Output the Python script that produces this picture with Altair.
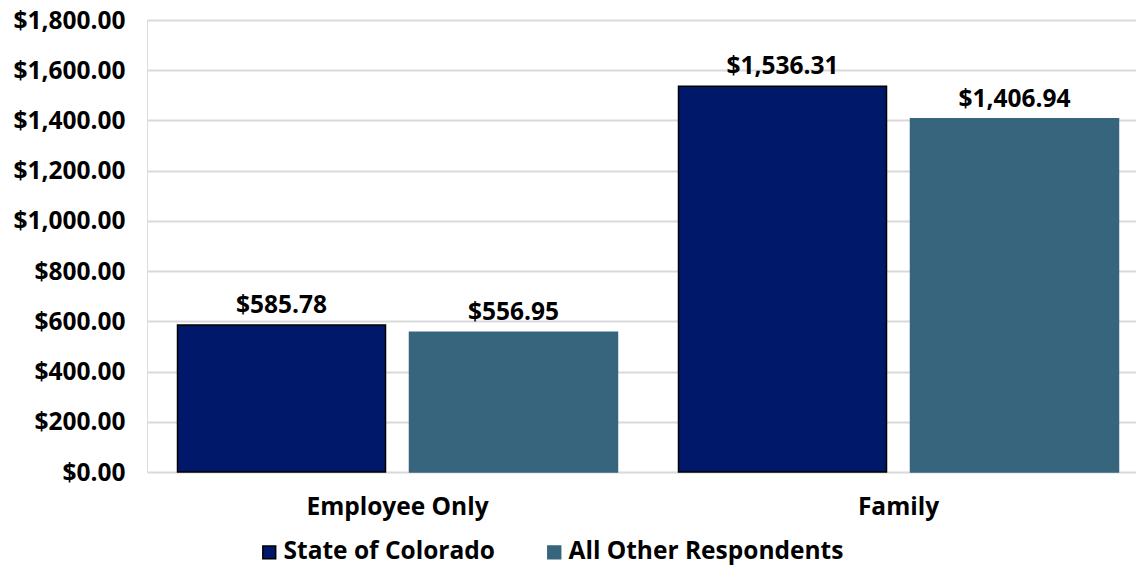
import altair as alt
import pandas as pd

categories = ["Employee Only", "Family"]
series = ["State of Colorado", "All Other Respondents"]
colorado = [585.78, 1536.31]
others = [556.95, 1406.94]
y_ticks = [0, 200, 400, 600, 800, 1000, 1200, 1400, 1600, 1800]

rows = []
for i, c in enumerate(categories):
    rows.append({"Coverage": c, "Series": series[0], "Value": colorado[i]})
    rows.append({"Coverage": c, "Series": series[1], "Value": others[i]})
df = pd.DataFrame(rows)

FONT = "Open Sans"
FS = 24.5

x = alt.X("Coverage:N", sort=categories, title=None,
          scale=alt.Scale(paddingInner=0, paddingOuter=0, range=[0, 1002]),
          axis=alt.Axis(labelAngle=0, domain=False, ticks=False, labelPadding=23,
                        labelFont=FONT, labelFontSize=FS, labelFontWeight="bold",
                        labelColor="black", grid=False, labelLimit=500))
xoff = alt.XOffset("Series:N", sort=series,
                   scale=alt.Scale(paddingInner=0.1034, paddingOuter=0.1315))
y = alt.Y("Value:Q", title=None,
          scale=alt.Scale(domain=[0, 1800], nice=False),
          axis=alt.Axis(values=y_ticks, format="$,.2f", domain=False, ticks=False,
                        labelPadding=22, labelOffset=1, labelFont=FONT, labelFontSize=FS,
                        labelFontWeight="bold", labelColor="black",
                        gridColor="#d9d9d9", gridWidth=2))

legend = alt.Legend(title=None, orient="none", legendX=110, legendY=520,
                    direction="horizontal", symbolType="square", symbolSize=165,
                    labelFont=FONT, labelFontSize=FS, labelFontWeight="bold",
                    labelColor="black", labelOffset=2, columnPadding=47,
                    labelLimit=400, padding=0, symbolStrokeWidth=1.5)

color = alt.Color("Series:N", sort=series,
                  scale=alt.Scale(domain=series, range=["#00186a", "#37657e"]),
                  legend=legend)
stroke = alt.Stroke("Series:N", sort=series,
                    scale=alt.Scale(domain=series, range=["#000000", "#37657e"]),
                    legend=legend)

bars = alt.Chart(df).mark_bar(strokeWidth=1.5).encode(
    x=x, xOffset=xoff, y=y, color=color, stroke=stroke
)

labels = alt.Chart(df).mark_text(
    dy=-12, baseline="alphabetic", font=FONT, fontSize=FS, fontWeight="bold", color="black"
).encode(
    x=alt.X("Coverage:N", sort=categories),
    xOffset=alt.XOffset("Series:N", sort=series),
    y="Value:Q",
    text=alt.Text("Value:Q", format="$,.2f"),
)

chart = alt.layer(bars, labels).properties(
    width=989, height=452,
    autosize=alt.AutoSizeParams(type="none"),
    padding={"left": 139, "top": 12, "right": 0, "bottom": 110},
).configure_view(stroke=None).configure(background="white")

chart.save("out.html", embed_options={"renderer": "svg", "actions": False})
